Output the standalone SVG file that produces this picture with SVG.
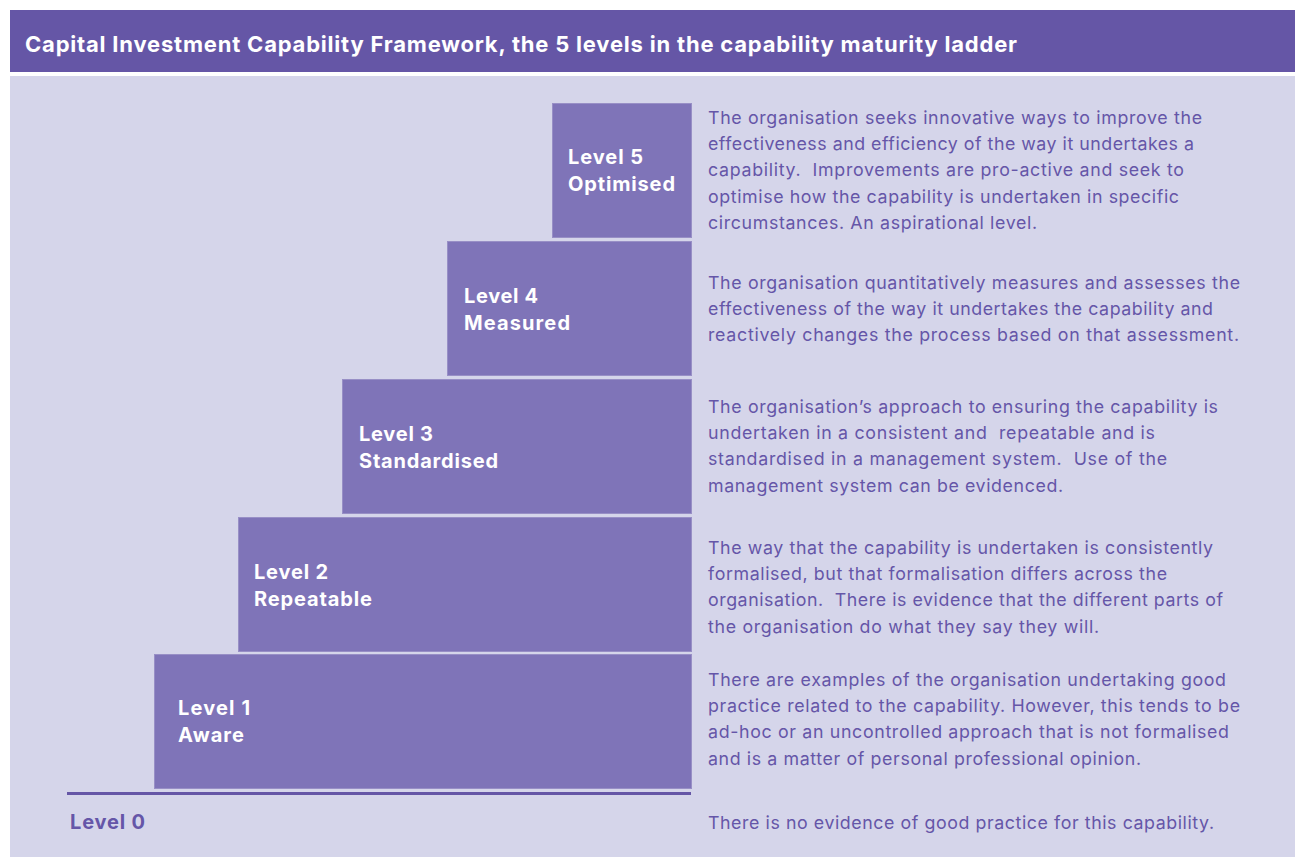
<svg xmlns="http://www.w3.org/2000/svg" width="1300" height="857" viewBox="0 0 1300 857">
  <style>
    .title { font-family: Inter, "Liberation Sans", Arial, sans-serif; font-weight: bold; font-size: 22px; fill: #ffffff; }
    .step { fill: #7f74b8; stroke: #988fc6; stroke-width: 1; }
    .label { font-family: Inter, "Liberation Sans", Arial, sans-serif; font-weight: bold; font-size: 20px; fill: #ffffff; }
    .desc { font-family: Inter, "Liberation Sans", Arial, sans-serif; font-size: 17.8px; fill: #6556a8; white-space: pre; }
    .base { font-family: Inter, "Liberation Sans", Arial, sans-serif; font-weight: bold; font-size: 20px; fill: #6556a8; }
  </style>

  <rect x="0" y="0" width="1300" height="857" fill="#ffffff"/>

  <!-- header bar -->
  <g id="header">
    <rect x="10" y="10" width="1285" height="62" fill="#6556a6"/>
    <text class="title" x="25" y="52" textLength="992" lengthAdjust="spacing">Capital Investment Capability Framework, the 5 levels in the capability maturity ladder</text>
  </g>

  <!-- body panel -->
  <rect x="10" y="76" width="1285" height="781" fill="#d5d5ea"/>

  <!-- ground line for level 0 -->
  <g id="connectors">
    <line x1="67" y1="793.5" x2="691" y2="793.5" stroke="#6556a6" stroke-width="3"/>
  </g>

  <g id="level5">
    <rect class="step" x="552.5" y="103.5" width="139" height="134"/>
    <text class="label" x="568" y="164" textLength="75" lengthAdjust="spacing">Level 5</text>
    <text class="label" x="568" y="191" textLength="107" lengthAdjust="spacing">Optimised</text>
    <text class="desc" xml:space="preserve"><tspan x="708" y="124" textLength="494" lengthAdjust="spacing">The organisation seeks innovative ways to improve the</tspan><tspan x="708" y="150" textLength="486" lengthAdjust="spacing">effectiveness and efficiency of the way it undertakes a</tspan><tspan x="708" y="176" textLength="476" lengthAdjust="spacing">capability.  Improvements are pro-active and seek to</tspan><tspan x="708" y="203" textLength="471" lengthAdjust="spacing">optimise how the capability is undertaken in specific</tspan><tspan x="708" y="229" textLength="329" lengthAdjust="spacing">circumstances. An aspirational level.</tspan></text>
  </g>

  <g id="level4">
    <rect class="step" x="447.5" y="241.5" width="244" height="134"/>
    <text class="label" x="464" y="303" textLength="74" lengthAdjust="spacing">Level 4</text>
    <text class="label" x="464" y="330" textLength="106" lengthAdjust="spacing">Measured</text>
    <text class="desc" xml:space="preserve"><tspan x="708" y="289" textLength="532" lengthAdjust="spacing">The organisation quantitatively measures and assesses the</tspan><tspan x="708" y="315" textLength="505" lengthAdjust="spacing">effectiveness of the way it undertakes the capability and</tspan><tspan x="708" y="341" textLength="531" lengthAdjust="spacing">reactively changes the process based on that assessment.</tspan></text>
  </g>

  <g id="level3">
    <rect class="step" x="342.5" y="379.5" width="349" height="134"/>
    <text class="label" x="359" y="441" textLength="74" lengthAdjust="spacing">Level 3</text>
    <text class="label" x="359" y="468" textLength="139" lengthAdjust="spacing">Standardised</text>
    <text class="desc" xml:space="preserve"><tspan x="708" y="413" textLength="510" lengthAdjust="spacing">The organisation’s approach to ensuring the capability is</tspan><tspan x="708" y="439" textLength="447" lengthAdjust="spacing">undertaken in a consistent and  repeatable and is</tspan><tspan x="708" y="465" textLength="459" lengthAdjust="spacing">standardised in a management system.  Use of the</tspan><tspan x="708" y="492" textLength="355" lengthAdjust="spacing">management system can be evidenced.</tspan></text>
  </g>

  <g id="level2">
    <rect class="step" x="238.5" y="517.5" width="453" height="134"/>
    <text class="label" x="254" y="579" textLength="74" lengthAdjust="spacing">Level 2</text>
    <text class="label" x="254" y="606" textLength="118" lengthAdjust="spacing">Repeatable</text>
    <text class="desc" xml:space="preserve"><tspan x="708" y="554" textLength="505" lengthAdjust="spacing">The way that the capability is undertaken is consistently</tspan><tspan x="708" y="580" textLength="459" lengthAdjust="spacing">formalised, but that formalisation differs across the</tspan><tspan x="708" y="606" textLength="515" lengthAdjust="spacing">organisation.  There is evidence that the different parts of</tspan><tspan x="708" y="633" textLength="391" lengthAdjust="spacing">the organisation do what they say they will.</tspan></text>
  </g>

  <g id="level1">
    <rect class="step" x="154.5" y="654.5" width="537" height="134"/>
    <text class="label" x="178" y="715" textLength="72" lengthAdjust="spacing">Level 1</text>
    <text class="label" x="178" y="742" textLength="66" lengthAdjust="spacing">Aware</text>
    <text class="desc" xml:space="preserve"><tspan x="708" y="686" textLength="518" lengthAdjust="spacing">There are examples of the organisation undertaking good</tspan><tspan x="708" y="712" textLength="532" lengthAdjust="spacing">practice related to the capability. However, this tends to be</tspan><tspan x="708" y="738" textLength="521" lengthAdjust="spacing">ad-hoc or an uncontrolled approach that is not formalised</tspan><tspan x="708" y="765" textLength="433" lengthAdjust="spacing">and is a matter of personal professional opinion.</tspan></text>
  </g>

  <g id="level0">
    <text class="base" x="70" y="829" textLength="75" lengthAdjust="spacing">Level 0</text>
    <text class="desc" x="708" y="829" textLength="506" lengthAdjust="spacing">There is no evidence of good practice for this capability.</text>
  </g>
</svg>
